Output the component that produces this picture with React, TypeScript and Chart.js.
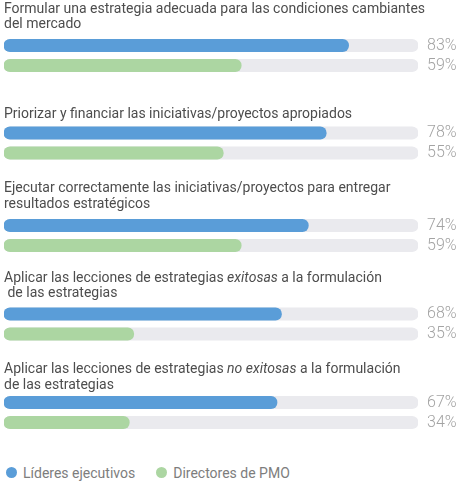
import React, { useEffect, useRef } from 'react';
import { Chart, registerables } from 'chart.js';

Chart.register(...registerables);
document.body.style.margin = '0';

// ---- data ----
const QUESTIONS = [
  'Formular una estrategia adecuada para las condiciones cambiantes\ndel mercado',
  'Priorizar y financiar las iniciativas/proyectos apropiados',
  'Ejecutar correctamente las iniciativas/proyectos para entregar\nresultados estratégicos',
  'Aplicar las lecciones de estrategias *exitosas* a la formulación\n de las estrategias',
  'Aplicar las lecciones de estrategias *no exitosas* a la formulación\nde las estrategias',
];
const SERIES = ['Líderes ejecutivos', 'Directores de PMO'];
const LIDERES = [83, 78, 74, 68, 67];
const PMO = [59, 55, 59, 35, 34];
const SCALE_MIN = 6;
const SCALE_MAX = 98.5;

// ---- styles / layout ----
const COLORS = ['#5a9dd8', '#acd6a2'];
const TRACK = '#eaeaee';
const FONT = 'Roboto, "Open Sans", sans-serif';
const CHART_HEIGHTS = [86, 84, 88, 90, 90];
const TITLE_BASELINE = [12.5, 31.5, 22, 23.5, 25];
const AREA_TOP = [35.5, 37, 45.5, 46, 44.5];
const LINE_H = 15.5;
const AREA_H = 40;

const richTitle = {
  id: 'richTitle',
  afterDraw(chart: any, _args: any, opts: any) {
    const { ctx } = chart;
    const lines: string[] = opts.text.split('\n');
    ctx.save();
    ctx.fillStyle = opts.color;
    ctx.textBaseline = 'alphabetic';
    ctx.textAlign = 'left';
    lines.forEach((line, i) => {
      let x = chart.chartArea.left;
      const y = opts.baseline + i * opts.lineHeight;
      line.split('*').forEach((seg, j) => {
        if (!seg) return;
        ctx.font = `${j % 2 ? 'italic ' : ''}${opts.size}px ${opts.family}`;
        ctx.fillText(seg, x, y);
        x += ctx.measureText(seg).width;
      });
    });
    ctx.restore();
  },
};

function Group({ idx }: { idx: number }) {
  const ref = useRef<HTMLCanvasElement>(null);
  useEffect(() => {
    const vals = [LIDERES[idx], PMO[idx]];
    const h = CHART_HEIGHTS[idx];
    const chart = new Chart(ref.current!, {
      type: 'bar',
      data: {
        labels: SERIES,
        datasets: [
          {
            data: vals,
            backgroundColor: COLORS,
            base: SCALE_MIN,
            barThickness: 12.5,
            borderRadius: 20,
            borderSkipped: false,
            grouped: false,
            order: 1,
          } as any,
          {
            data: [SCALE_MAX, SCALE_MAX],
            backgroundColor: TRACK,
            base: SCALE_MIN,
            barThickness: 12.5,
            borderRadius: 20,
            borderSkipped: false,
            grouped: false,
            order: 2,
          } as any,
        ],
      },
      options: {
        indexAxis: 'y',
        animation: false,
        responsive: true,
        maintainAspectRatio: false,
        layout: {
          padding: { left: 4, right: 0, top: AREA_TOP[idx], bottom: h - AREA_TOP[idx] - AREA_H },
        },
        scales: {
          x: { type: 'linear', display: false, min: SCALE_MIN, max: SCALE_MAX },
          y: {
            type: 'category',
            position: 'right',
            offset: true,
            grid: { display: false, drawTicks: false },
            border: { display: false },
            ticks: {
              padding: 9,
              autoSkip: false,
              color: '#a3a3a3',
              font: { family: FONT, size: 16, weight: '300' as any },
              callback: (_v: any, i: number) => `${vals[i]}%`,
            },
            afterFit: (scale: any) => {
              scale.width = 41;
              scale.paddingTop = 0;
              scale.paddingBottom = 0;
            },
          },
        },
        plugins: {
          legend: { display: false },
          tooltip: { enabled: false },
          richTitle: {
            text: QUESTIONS[idx],
            baseline: TITLE_BASELINE[idx],
            lineHeight: LINE_H,
            size: 14,
            family: FONT,
            color: '#4d4d4d',
          },
        } as any,
      },
      plugins: [richTitle],
    });
    return () => chart.destroy();
  }, [idx]);
  return (
    <div style={{ position: 'relative', height: CHART_HEIGHTS[idx] }}>
      <canvas ref={ref} />
    </div>
  );
}

export default function App() {
  return (
    <div style={{ width: 459, fontFamily: FONT }}>
      {QUESTIONS.map((_, i) => (
        <Group key={i} idx={i} />
      ))}
      <div
        style={{
          height: 47,
          boxSizing: 'border-box',
          paddingTop: 22,
          display: 'flex',
          alignItems: 'center',
          fontSize: 14,
          lineHeight: '18px',
          color: '#7d7d7d',
        }}
      >
        {SERIES.map((s, i) => (
          <span key={s} style={{ display: 'flex', alignItems: 'center', marginLeft: i === 0 ? 6 : 21 }}>
            <span
              style={{
                display: 'inline-block',
                width: 11,
                height: 11,
                borderRadius: '50%',
                background: COLORS[i],
                marginRight: 6,
              }}
            />
            {s}
          </span>
        ))}
      </div>
    </div>
  );
}
